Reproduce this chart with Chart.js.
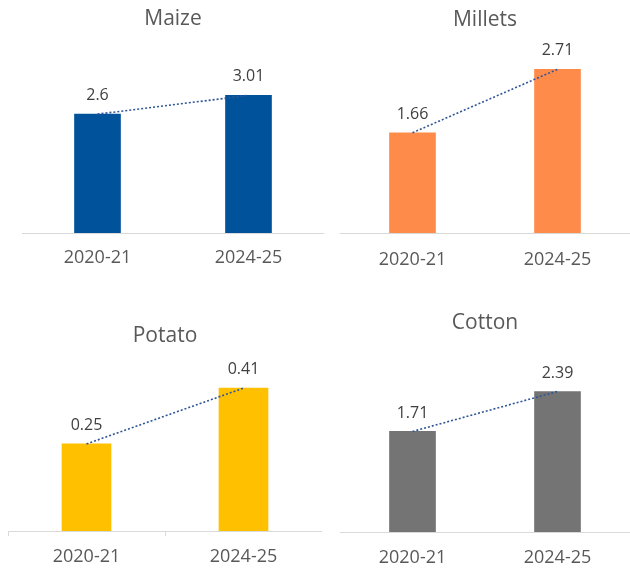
<!DOCTYPE html>
<html><head><meta charset="utf-8">
<script src="https://cdn.jsdelivr.net/npm/chart.js@4"></script>
<style>
html,body{margin:0;padding:0;background:#fff;overflow:hidden;width:630px;height:568px;position:relative}
canvas{position:absolute}
</style></head><body>
<canvas id="c0"></canvas>
<canvas id="c1"></canvas>
<canvas id="c2"></canvas>
<canvas id="c3"></canvas>
<script>
// ---- data ----
const categories = ['2020-21', '2024-25'];
const crops = ['Maize', 'Millets', 'Potato', 'Cotton'];
const maizeValues = [2.6, 3.01];
const milletsValues = [1.66, 2.71];
const potatoValues = [0.25, 0.41];
const cottonValues = [1.71, 2.39];
const axisMax = [3.5, 3, 0.45, 3];

// ---- styles ----
const seriesValues = [maizeValues, milletsValues, potatoValues, cottonValues];
const barColors = ['#00539B', '#FF8B4B', '#FFC000', '#747474'];
const trendColor = '#2F5597';
const textColor = '#595959';
const labelColor = '#404040';
const axisColor = '#D9D9D9';
const FONT = "'Open Sans', 'Liberation Sans', sans-serif";

const layouts = [
  {left: 22,  top: 0,   width: 302, height: 285, axisH: 52, tPadTop: 6.4,  tPadBot: 41.4, tickPad: 14.2, ticks: false, bar: 46},
  {left: 340, top: 0,   width: 290, height: 285, axisH: 52, tPadTop: 7.4,  tPadBot: 19.2, tickPad: 16.2, ticks: false, bar: 46},
  {left: 8,   top: 290, width: 314, height: 278, axisH: 37, tPadTop: 33.4, tPadBot: 25.6, tickPad: 10.2, ticks: true,  bar: 49},
  {left: 340, top: 290, width: 290, height: 278, axisH: 36, tPadTop: 20.4, tPadBot: 20,   tickPad: 15.2, ticks: false, bar: 46}
];

const valueLabels = {
  id: 'valueLabels',
  afterDatasetsDraw(chart) {
    const ctx = chart.ctx;
    const meta = chart.getDatasetMeta(0);
    const vals = chart.data.datasets[0].data;
    ctx.save();
    ctx.font = '16px ' + FONT;
    ctx.fillStyle = labelColor;
    ctx.textAlign = 'center';
    ctx.textBaseline = 'middle';
    meta.data.forEach((el, i) => {
      ctx.fillText(String(vals[i]), el.x, el.y - 18.5);
    });
    ctx.restore();
  }
};

crops.forEach((name, k) => {
  const L = layouts[k];
  const cv = document.getElementById('c' + k);
  cv.style.left = L.left + 'px';
  cv.style.top = L.top + 'px';
  cv.width = L.width; cv.height = L.height;
  cv.style.width = L.width + 'px'; cv.style.height = L.height + 'px';
  new Chart(cv, {
    data: {
      labels: categories,
      datasets: [
        {type: 'bar', data: seriesValues[k], backgroundColor: barColors[k], barThickness: L.bar, order: 2},
        {type: 'line', data: seriesValues[k], borderColor: trendColor, borderWidth: 1.6, borderDash: [2, 2],
         pointRadius: 0, fill: false, tension: 0, order: 1}
      ]
    },
    options: {
      responsive: false,
      animation: false,
      devicePixelRatio: 1,
      layout: {padding: 0},
      plugins: {
        legend: {display: false},
        tooltip: {enabled: false},
        title: {display: true, text: name, color: textColor,
                font: {family: FONT, size: 21, weight: 'normal'},
                padding: {top: L.tPadTop, bottom: L.tPadBot}}
      },
      scales: {
        x: {
          type: 'category',
          offset: true,
          grid: {display: L.ticks, drawOnChartArea: false, drawTicks: L.ticks, tickLength: L.ticks ? 5 : 0, color: axisColor, offset: true},
          border: {display: true, color: axisColor, width: 1},
          ticks: {color: textColor, font: {family: FONT, size: 18}, padding: L.tickPad, maxRotation: 0, autoSkip: false},
          afterFit: (s) => { s.height = L.axisH; }
        },
        y: {display: false, min: 0, max: axisMax[k]}
      }
    },
    plugins: [valueLabels]
  });
});
</script>
</body></html>
